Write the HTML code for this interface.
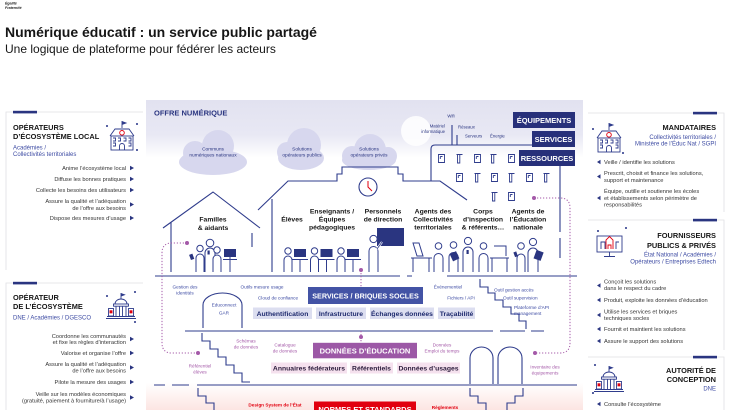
<!DOCTYPE html>
<html><head><meta charset="utf-8"><title>Numérique éducatif</title>
<style>html,body{margin:0;padding:0;background:#fff;width:730px;height:410px;overflow:hidden}svg{display:block}</style>
</head><body>
<svg xmlns="http://www.w3.org/2000/svg" width="730" height="410" viewBox="0 0 730 410" font-family="'Liberation Sans', sans-serif">
<defs>
 <linearGradient id="lav" x1="0" y1="0" x2="0" y2="1">
  <stop offset="0" stop-color="#e2e2f0"/><stop offset="0.6" stop-color="#e8e8f4"/><stop offset="1" stop-color="#ffffff"/>
 </linearGradient>
 <linearGradient id="pk" x1="0" y1="0" x2="0" y2="1">
  <stop offset="0" stop-color="#ffffff"/><stop offset="1" stop-color="#fce5e2"/>
 </linearGradient>
 <g id="wf" fill="none" stroke="#2f3c8c" stroke-width="0.9"><path d="M0.5,0.5 H6.5 V8.5 H0.5 Z"/><path d="M2.3,2.5 H4.5 M2.3,2.5 V5"/></g>
 <g id="wt" fill="none" stroke="#2f3c8c" stroke-width="0.9"><path d="M0.5,0.5 H6.5 M1.5,0.5 V9 H3.8 V0.5"/></g>
</defs>

<!-- Header -->
<text x="5" y="4.5" font-size="3.6" font-style="italic" font-weight="700" fill="#222">Égalité</text>
<text x="5" y="9" font-size="3.6" font-style="italic" font-weight="700" fill="#222">Fraternité</text>
<text x="5" y="37" font-size="14" font-weight="700" fill="#161616">Numérique éducatif : un service public partagé</text>
<text x="5" y="53" font-size="12" fill="#161616">Une logique de plateforme pour fédérer les acteurs</text>

<!-- Center backgrounds -->
<rect x="146" y="100" width="437" height="58" fill="url(#lav)"/>
<rect x="146" y="383" width="437" height="27" fill="url(#pk)"/>

<!-- ============ LEFT PANEL 1 ============ -->
<path d="M6,270 V112 H143" stroke="#e0e0e4" fill="none" stroke-width="0.8"/>
<rect x="13" y="110.8" width="24" height="2.6" fill="#2a3580"/>
<text font-size="7.4" font-weight="700" fill="#161616"><tspan x="13" y="130">OPÉRATEURS</tspan><tspan x="13" y="139">D’ÉCOSYSTÈME LOCAL</tspan></text>
<text font-size="6" fill="#3d4ba3"><tspan x="13" y="149.5">Académies /</tspan><tspan x="13" y="156">Collectivités territoriales</tspan></text>
<g transform="translate(107,121)" fill="none" stroke="#2f3c8c" stroke-width="0.9">
 <line x1="15" y1="0" x2="15" y2="7"/><path d="M15,0.5 l4,1.5 l-4,1.5" fill="#2f3c8c"/>
 <path d="M3,15 L8,8 H22 L27,15"/>
 <rect x="4" y="15" width="22" height="14"/>
 <path d="M6,17 h2.5 v3 h-2.5 M11,17 h2.5 v3 h-2.5 M16.5,17 h2.5 v3 h-2.5 M21.5,17 h2.5 v3 h-2.5 M6,22 h2.5 v3 h-2.5 M21.5,22 h2.5 v3 h-2.5"/>
 <path d="M12.5,29 V25 a2.5,2.5 0 0 1 5,0 V29"/>
 <circle cx="15" cy="11.8" r="2.3" stroke="#e1000f"/>
 <circle cx="0" cy="5" r="0.6" fill="#2f3c8c"/><circle cx="30" cy="3" r="0.6" fill="#2f3c8c"/><circle cx="30" cy="29" r="0.6" fill="#2f3c8c"/>
</g>
<g font-size="5.7" fill="#333" text-anchor="end">
 <text x="126" y="169.8">Anime l’écosystème local</text>
 <text x="126" y="180.8">Diffuse les bonnes pratiques</text>
 <text x="126" y="191.8">Collecte les besoins des utilisateurs</text>
 <text x="126" y="202.8">Assure la qualité et l’adéquation</text>
 <text x="126" y="209.8">de l’offre aux besoins</text>
 <text x="126" y="219.8">Dispose des mesures d’usage</text>
</g>
<g fill="#2a3580">
 <polygon points="130,165.8 134,168 130,170.2"/>
 <polygon points="130,176.8 134,179 130,181.2"/>
 <polygon points="130,187.8 134,190 130,192.2"/>
 <polygon points="130,202.3 134,204.5 130,206.7"/>
 <polygon points="130,215.8 134,218 130,220.2"/>
</g>

<!-- ============ LEFT PANEL 2 ============ -->
<path d="M6,410 V283 H143" stroke="#e0e0e4" fill="none" stroke-width="0.8"/>
<rect x="13" y="281.8" width="24" height="2.6" fill="#2a3580"/>
<text font-size="7.4" font-weight="700" fill="#161616"><tspan x="13" y="300">OPÉRATEUR</tspan><tspan x="13" y="309">DE L’ÉCOSYSTÈME</tspan></text>
<text x="13" y="319.5" font-size="6" fill="#3d4ba3">DNE / Académies / DGESCO</text>
<g transform="translate(107,293)" fill="none" stroke="#2f3c8c" stroke-width="0.9">
 <line x1="14" y1="0" x2="14" y2="6"/><path d="M14,0.5 l3.5,1.3 l-3.5,1.3" fill="#2f3c8c"/>
 <path d="M8,11 a6,5 0 0 1 12,0"/>
 <rect x="6.5" y="11" width="15" height="2.2"/>
 <path d="M9,13.2 V23 M12.5,13.2 V23 M15.5,13.2 V23 M19,13.2 V23"/>
 <rect x="1.5" y="15.5" width="5" height="7.5"/><rect x="21.5" y="15.5" width="5" height="7.5"/>
 <rect x="2.7" y="17.5" width="2.6" height="2.6" fill="#e1000f" stroke="#e1000f" stroke-width="0.4"/>
 <rect x="22.7" y="17.5" width="2.6" height="2.6" fill="#e1000f" stroke="#e1000f" stroke-width="0.4"/>
 <path d="M0,23.5 H28 M-1,25.5 H29"/>
 <circle cx="0" cy="3" r="0.6" fill="#2f3c8c"/><circle cx="28" cy="-1" r="0.6" fill="#2f3c8c"/><circle cx="28" cy="29" r="0.6" fill="#2f3c8c"/>
</g>
<g font-size="5.7" fill="#333" text-anchor="end">
 <text x="126" y="337.8">Coordonne les communautés</text>
 <text x="126" y="344">et fixe les règles d’interaction</text>
 <text x="126" y="354.8">Valorise et organise l’offre</text>
 <text x="126" y="365.8">Assure la qualité et l’adéquation</text>
 <text x="126" y="372.5">de l’offre aux besoins</text>
 <text x="126" y="383.8">Pilote la mesure des usages</text>
 <text x="126" y="395.8">Veille sur les modèles économiques</text>
 <text x="126" y="402.6">(gratuité, paiement à fourniture/à l’usage)</text>
</g>
<g fill="#2a3580">
 <polygon points="130,336.8 134,339 130,341.2"/>
 <polygon points="130,350.8 134,353 130,355.2"/>
 <polygon points="130,365.3 134,367.5 130,369.7"/>
 <polygon points="130,379.8 134,382 130,384.2"/>
 <polygon points="130,395.3 134,397.5 130,399.7"/>
</g>

<!-- ============ RIGHT PANEL 1 ============ -->
<path d="M588,113 H724 V212" stroke="#e0e0e4" fill="none" stroke-width="0.8"/>
<rect x="693" y="111.8" width="24" height="2.6" fill="#2a3580"/>
<text x="716" y="130" font-size="7.4" font-weight="700" fill="#161616" text-anchor="end">MANDATAIRES</text>
<text font-size="6" fill="#3d4ba3" text-anchor="end"><tspan x="716" y="139">Collectivités territoriales /</tspan><tspan x="716" y="145.5">Ministère de l’Éduc Nat / SGPI</tspan></text>
<g transform="translate(594,123)" fill="none" stroke="#2f3c8c" stroke-width="0.9">
 <line x1="15" y1="0" x2="15" y2="7"/><path d="M15,0.5 l4,1.5 l-4,1.5" fill="#2f3c8c"/>
 <path d="M3,15 L8,8 H22 L27,15"/>
 <rect x="4" y="15" width="22" height="14"/>
 <path d="M6,17 h2.5 v3 h-2.5 M11,17 h2.5 v3 h-2.5 M16.5,17 h2.5 v3 h-2.5 M21.5,17 h2.5 v3 h-2.5 M6,22 h2.5 v3 h-2.5 M21.5,22 h2.5 v3 h-2.5"/>
 <path d="M12.5,29 V25 a2.5,2.5 0 0 1 5,0 V29"/>
 <circle cx="15" cy="11.8" r="2.3" stroke="#e1000f"/>
 <circle cx="-1" cy="6" r="0.6" fill="#2f3c8c"/><circle cx="29" cy="30" r="0.6" fill="#2f3c8c"/>
</g>
<g font-size="5.7" fill="#333">
 <text x="604" y="163.8">Veille / identifie les solutions</text>
 <text x="604" y="174.8">Prescrit, choisit et finance les solutions,</text>
 <text x="604" y="181.8">support et maintenance</text>
 <text x="604" y="192.8">Équipe, outille et soutienne les écoles</text>
 <text x="604" y="199.8">et établissements selon périmètre de</text>
 <text x="604" y="206.3">responsabilités</text>
</g>
<g fill="#2a3580">
 <polygon points="600.5,159.8 597,162 600.5,164.2"/>
 <polygon points="600.5,174.3 597,176.5 600.5,178.7"/>
 <polygon points="600.5,195.8 597,198 600.5,200.2"/>
</g>

<!-- ============ RIGHT PANEL 2 ============ -->
<path d="M588,220 H724 V350" stroke="#e0e0e4" fill="none" stroke-width="0.8"/>
<rect x="693" y="218.8" width="24" height="2.6" fill="#2a3580"/>
<text font-size="7.4" font-weight="700" fill="#161616" text-anchor="end"><tspan x="716" y="238">FOURNISSEURS</tspan><tspan x="716" y="248">PUBLICS &amp; PRIVÉS</tspan></text>
<text font-size="6" fill="#3d4ba3" text-anchor="end"><tspan x="716" y="256.5">État National / Académies /</tspan><tspan x="716" y="263.5">Opérateurs / Entreprises Edtech</tspan></text>
<g fill="none" stroke="#2f3c8c" stroke-width="0.9">
 <rect x="597" y="236" width="25" height="16"/>
 <path d="M609.5,252 V256 M604,256.5 H615"/>
 <path d="M601,249 V242 H605 V249 M616,249 V242 H619"/>
 <path d="M606,249 V240 L609.5,236.5 L613,240 V249" stroke="#e1000f"/>
 <path d="M608,249 V245 H611 V249" stroke="#e1000f"/>
 <circle cx="598" cy="231" r="0.6" fill="#2f3c8c"/><circle cx="626" cy="228" r="0.6" fill="#2f3c8c"/>
</g>
<g font-size="5.7" fill="#333">
 <text x="604" y="283.5">Conçoit les solutions</text>
 <text x="604" y="290.2">dans le respect du cadre</text>
 <text x="604" y="301.8">Produit, exploite les données d’éducation</text>
 <text x="604" y="313.5">Utilise les services et briques</text>
 <text x="604" y="320">techniques socles</text>
 <text x="604" y="330.8">Fournit et maintient les solutions</text>
 <text x="604" y="342.8">Assure le support des solutions</text>
</g>
<g fill="#2a3580">
 <polygon points="600.5,283.3 597,285.5 600.5,287.7"/>
 <polygon points="600.5,297.8 597,300 600.5,302.2"/>
 <polygon points="600.5,312.8 597,315 600.5,317.2"/>
 <polygon points="600.5,326.8 597,329 600.5,331.2"/>
 <polygon points="600.5,338.8 597,341 600.5,343.2"/>
</g>

<!-- ============ RIGHT PANEL 3 ============ -->
<path d="M588,357 H724 V410" stroke="#e0e0e4" fill="none" stroke-width="0.8"/>
<rect x="693" y="355.8" width="24" height="2.6" fill="#2a3580"/>
<text font-size="7.4" font-weight="700" fill="#161616" text-anchor="end"><tspan x="716" y="373">AUTORITÉ DE</tspan><tspan x="716" y="382">CONCEPTION</tspan></text>
<text x="716" y="390.5" font-size="6" fill="#3d4ba3" text-anchor="end">DNE</text>
<g transform="translate(595,366)" fill="none" stroke="#2f3c8c" stroke-width="0.9">
 <line x1="14" y1="0" x2="14" y2="6"/><path d="M14,0.5 l3.5,1.3 l-3.5,1.3" fill="#2f3c8c"/>
 <path d="M8,11 a6,5 0 0 1 12,0"/>
 <rect x="6.5" y="11" width="15" height="2.2"/>
 <path d="M9,13.2 V23 M12.5,13.2 V23 M15.5,13.2 V23 M19,13.2 V23"/>
 <rect x="1.5" y="15.5" width="5" height="7.5"/><rect x="21.5" y="15.5" width="5" height="7.5"/>
 <rect x="2.7" y="17.5" width="2.6" height="2.6" fill="#e1000f" stroke="#e1000f" stroke-width="0.4"/>
 <rect x="22.7" y="17.5" width="2.6" height="2.6" fill="#e1000f" stroke="#e1000f" stroke-width="0.4"/>
 <path d="M0,23.5 H28 M-1,25.5 H29"/>
 <circle cx="0" cy="-1" r="0.6" fill="#2f3c8c"/><circle cx="-2" cy="27" r="0.6" fill="#2f3c8c"/>
</g>
<text x="604" y="405.8" font-size="5.7" fill="#333">Consulte l’écosystème</text>
<polygon points="600.5,401.8 597,404 600.5,406.2" fill="#2a3580"/>

<!-- ============ CENTER: OFFRE NUMERIQUE ============ -->
<text x="154" y="115.5" font-size="7.5" font-weight="700" fill="#2a3580">OFFRE NUMÉRIQUE</text>

<g fill="#d7d7ee">
 <ellipse cx="213" cy="162" rx="34" ry="13"/><circle cx="218" cy="146" r="16"/><circle cx="195" cy="153" r="12"/>
 <ellipse cx="301" cy="158" rx="23" ry="12"/><circle cx="304" cy="145" r="17"/><circle cx="287" cy="152" r="10"/>
 <ellipse cx="369" cy="160" rx="27" ry="10"/><circle cx="370" cy="150" r="16"/><circle cx="388" cy="156" r="9"/><circle cx="352" cy="156" r="10"/>
</g>
<circle cx="416" cy="131" r="15" fill="#ffffff" opacity="0.85"/>
<g font-size="4.8" fill="#2a3580" text-anchor="middle">
 <text x="213" y="150.5">Communs</text><text x="213" y="156.5">numériques nationaux</text>
 <text x="302" y="150.5">Solutions</text><text x="302" y="156.5">opérateurs publics</text>
 <text x="369" y="150.5">Solutions</text><text x="369" y="156.5">opérateurs privés</text>
</g>
<g font-size="4.3" fill="#2a3580">
 <text x="451" y="117.5" text-anchor="middle">Wifi</text>
 <text x="445" y="127.5" text-anchor="end">Matériel</text>
 <text x="445" y="133" text-anchor="end">informatique</text>
 <text x="458" y="128.5">Réseaux</text>
 <text x="465" y="137.5">Serveurs</text>
 <text x="490" y="137.5">Énergie</text>
</g>

<!-- Structural lines -->
<g fill="none" stroke="#2f3c8c" stroke-width="1.1">
 <path d="M452,125 V145 M457,135 V145"/>
 <path d="M431,181 V149 Q431,145 435,145 H560"/>
 <path d="M560,166 V232 M560,238 V258"/>
 <polyline points="163,228 213,192 260,228"/>
 <path d="M171,222 V272 M252,233 V247"/>
 <polyline points="258,210 288,181 337,181 337,174 342,174 342,167 398,167 398,174 403,174 403,181 440,181 467,200"/>
 <path d="M272,199 V272"/>
 <path d="M155,276 H400 M407,276 H412 M447,276 H577"/>
 <path d="M185,331 H493 M500,331 H525 M531,331 H544"/>
 <path d="M154,385 H165 M172,385 H189 M197,385 H577"/>
 <path d="M480,279 V287 H488 V293 H495 V300 H503 V307 H511 V314 H519 V321 H526 V329"/>
 <path d="M202,333 V341 H210 V349 H218 V357 H226 V365 H234 V373 H242 V382 H250"/>
 <path d="M198,388 V396 H206 V403 H214 V410"/>
 <path d="M470,388 V396 H478 V403 H486 V410"/>
 <path d="M523,388 V396 H515 V403 H507 V410"/>
 <path d="M203,328 V305 A19.5,12 0 0 1 242,305 V328"/>
 <path d="M470,384 V358 A11.5,11 0 0 1 493,358 V384"/>
 <path d="M498,384 V358 A12,11 0 0 1 522,358 V384"/>
 <circle cx="368" cy="187" r="9" fill="#fff"/>
</g>
<path d="M368,181 V187 L372,191" stroke="#e1000f" stroke-width="1" fill="none"/>

<!-- windows -->
<use href="#wf" x="438" y="154"/><use href="#wt" x="456" y="154"/><use href="#wf" x="474" y="154"/><use href="#wt" x="490" y="154"/><use href="#wf" x="508" y="154"/>
<use href="#wf" x="456" y="173"/><use href="#wt" x="474" y="173"/><use href="#wf" x="491" y="173"/><use href="#wt" x="508" y="173"/><use href="#wf" x="526" y="173"/><use href="#wt" x="543" y="173"/>
<use href="#wt" x="491" y="192"/><use href="#wf" x="508" y="192"/>

<!-- Buttons -->
<rect x="513" y="112" width="62" height="16" fill="#27307a"/>
<rect x="532" y="131" width="43" height="16" fill="#27307a"/>
<rect x="519" y="150" width="56" height="16" fill="#27307a"/>
<g font-size="7.5" font-weight="700" fill="#fff" text-anchor="middle">
 <text x="544" y="122.8">ÉQUIPEMENTS</text>
 <text x="553.5" y="141.8">SERVICES</text>
 <text x="547" y="160.8">RESSOURCES</text>
</g>

<!-- People labels -->
<g font-size="6.8" font-weight="700" fill="#161616" text-anchor="middle">
 <text x="213" y="221.5">Familles</text><text x="213" y="230">&amp; aidants</text>
 <text x="292" y="221.5">Élèves</text>
 <text x="332" y="213.5">Enseignants /</text><text x="332" y="221.5">Équipes</text><text x="332" y="229.5">pédagogiques</text>
 <text x="383" y="213.5">Personnels</text><text x="383" y="221.5">de direction</text>
 <text x="433" y="213.5">Agents des</text><text x="433" y="221.5">Collectivités</text><text x="433" y="229.5">territoriales</text>
 <text x="483" y="213.5">Corps</text><text x="483" y="221.5">d’inspection</text><text x="483" y="229.5">&amp; référents…</text>
 <text x="528" y="213.5">Agents de</text><text x="528" y="221.5">l’Éducation</text><text x="528" y="229.5">nationale</text>
</g>

<!-- People figures -->
<g fill="#2a3580">
 <rect x="224" y="249" width="12" height="8"/>
 <rect x="294" y="249" width="12" height="8"/>
 <rect x="320.5" y="249" width="12" height="8"/>
 <rect x="347" y="249" width="12" height="8"/>
 <rect x="377" y="228" width="27" height="18"/>
</g>
<g stroke="#2f3c8c" stroke-width="1" fill="none">
 <path d="M223,259.5 H237 M230,257 V272"/>
 <path d="M292,259.5 H308 M300,259.5 V272"/>
 <path d="M318.5,259.5 H334.5 M326.5,259.5 V272"/>
 <path d="M345,259.5 H361 M353,259.5 V272"/>
 <path d="M413,243 L419,243 L423,256 L417,256 Z"/>
 <path d="M411,258 H432 M413,258 V272 M429,258 V272"/>
 <path d="M494,246 H506 V256 M490,258 H509 M492,258 V272 M507,258 V272"/>
</g>
<g stroke="#2f3c8c" stroke-width="1" fill="#fff">
 <path d="M205,272 V253 a5,5 0 0 1 10,0 V272"/><circle cx="210" cy="243" r="3.8"/>
 <path d="M196,272 V258 a4,4 0 0 1 8,0 V272"/><circle cx="200" cy="248.5" r="3.2"/>
 <path d="M213,272 V259 a4,4 0 0 1 8,0 V272"/><circle cx="217" cy="250" r="3.2"/>
 <path d="M284,272 V260 a4,4 0 0 1 8,0 V272"/><circle cx="288" cy="251" r="3.2"/>
 <path d="M310.5,272 V260 a4,4 0 0 1 8,0 V272"/><circle cx="314.5" cy="251" r="3.2"/>
 <path d="M337,272 V260 a4,4 0 0 1 8,0 V272"/><circle cx="341" cy="251" r="3.2"/>
 <path d="M369,272 V251 a4.5,4.5 0 0 1 9,0 V272"/><circle cx="373.5" cy="239" r="3.6"/>
 <path d="M434,272 V258 a4.5,4.5 0 0 1 9,0 V272"/><circle cx="438.5" cy="246" r="3.3"/>
 <path d="M449,272 V257 a4.5,4.5 0 0 1 9,0 V272"/><circle cx="453.5" cy="245" r="3.3"/>
 <path d="M463,272 V252 a5,5 0 0 1 10,0 V272"/><circle cx="468" cy="241" r="3.6"/>
 <path d="M479,272 V258 a4.5,4.5 0 0 1 9,0 V272"/><circle cx="483.5" cy="246" r="3.3"/>
 <path d="M517,272 V258 a4,4 0 0 1 8,0 V272"/><circle cx="521" cy="246" r="3.3"/>
 <path d="M528,272 V253 a5,5 0 0 1 10,0 V272"/><circle cx="533" cy="242" r="3.6"/>
</g>
<path d="M377,249 L382,242" stroke="#fff" stroke-width="2.2"/>
<path d="M377,249 L382,242" stroke="#2f3c8c" stroke-width="0.8"/>
<g fill="#2a3580">
 <rect x="190" y="254" width="3.5" height="5.5" transform="rotate(-20 192 257)"/>
 <rect x="207.5" y="250.5" width="2.2" height="4"/>
 <rect x="451" y="252" width="7" height="8" transform="rotate(-25 455 256)"/>
 <rect x="466.5" y="250" width="2.2" height="4"/>
 <rect x="535" y="251" width="7.5" height="9" transform="rotate(20 539 255)"/>
 <rect x="514" y="252" width="3" height="5" transform="rotate(-20 515 254)"/>
</g>

<!-- Dotted purple connectors -->
<g fill="none" stroke="#a459a8" stroke-width="1" stroke-dasharray="1.2 1.8">
 <path d="M187,243 H172 Q162,243 162,253 V343 Q162,353 172,353 H198"/>
 <path d="M534,198 H560 Q570,198 570,208 V343 Q570,353 560,353 H535"/>
 <path d="M361,270 V287"/>
 <path d="M361,331 V343"/>
</g>
<g fill="#a459a8">
 <circle cx="187" cy="243" r="2"/><circle cx="198" cy="353" r="2"/>
 <circle cx="534" cy="198" r="2"/><circle cx="535" cy="353" r="2"/>
 <circle cx="361" cy="270" r="2"/><circle cx="361" cy="337" r="2"/>
</g>

<!-- SERVICES / BRIQUES SOCLES -->
<rect x="308" y="287" width="115" height="17" fill="#4353a5"/>
<text x="365.5" y="298.3" font-size="7.2" font-weight="700" fill="#fff" text-anchor="middle">SERVICES / BRIQUES SOCLES</text>
<g fill="#dcdef0">
 <rect x="253" y="307.5" width="59" height="11.5"/>
 <rect x="316" y="307.5" width="50" height="11.5"/>
 <rect x="370" y="307.5" width="64" height="11.5"/>
 <rect x="438" y="307.5" width="37" height="11.5"/>
</g>
<g font-size="6.8" font-weight="700" fill="#1e2a6e" text-anchor="middle">
 <text x="282.5" y="315.8">Authentification</text>
 <text x="341" y="315.8">Infrastructure</text>
 <text x="402" y="315.8">Échanges données</text>
 <text x="456.5" y="315.8">Traçabilité</text>
</g>
<g font-size="4.7" fill="#3d4ba3" text-anchor="middle">
 <text x="185" y="288.5">Gestion des</text><text x="185" y="294.5">identités</text>
 <text x="262" y="288.5">Outils mesure usage</text>
 <text x="278" y="299.5">Cloud de confiance</text>
 <text x="448" y="288.5">Événementiel</text>
 <text x="461" y="299.5">Fichiers / API</text>
 <text x="224" y="306.5">Educonnect</text>
 <text x="224" y="314.5">GAR</text>
</g>
<g font-size="4.7" fill="#3d4ba3">
 <text x="494" y="291.5">Outil gestion accès</text>
 <text x="503" y="299.5">Outil supervision</text>
 <text x="514" y="309">Plateforme d’API</text>
 <text x="514" y="314.8">management</text>
</g>

<!-- DONNEES D'EDUCATION -->
<rect x="313" y="342.8" width="104" height="15.5" fill="#9c58a6"/>
<text x="365" y="353.3" font-size="7.5" font-weight="700" fill="#fff" text-anchor="middle">DONNÉES D’ÉDUCATION</text>
<g fill="#f5e1ee">
 <rect x="271" y="362.5" width="76" height="11"/>
 <rect x="350" y="362.5" width="43" height="11"/>
 <rect x="397" y="362.5" width="63" height="11"/>
</g>
<g font-size="6.8" font-weight="700" fill="#2a1a3a" text-anchor="middle">
 <text x="309" y="370.6">Annuaires fédérateurs</text>
 <text x="371.5" y="370.6">Référentiels</text>
 <text x="428.5" y="370.6">Données d’usages</text>
</g>
<g font-size="4.7" fill="#a459a8" text-anchor="middle">
 <text x="246" y="342.5">Schémas</text><text x="246" y="348.5">de données</text>
 <text x="285" y="346.5">Catalogue</text><text x="285" y="352.5">de données</text>
 <text x="442" y="346.5">Données</text><text x="442" y="352.5">Emploi du temps</text>
 <text x="200" y="367.5">Référentiel</text><text x="200" y="373.5">élèves</text>
 <text x="545" y="368.5">Inventaire des</text><text x="545" y="374.5">équipements</text>
</g>

<!-- NORMES ET STANDARDS -->
<rect x="314" y="401.5" width="102" height="12" fill="#e1000f"/>
<text x="365" y="412" font-size="7.5" font-weight="700" fill="#fff" text-anchor="middle">NORMES ET STANDARDS</text>
<g font-size="4.7" font-weight="700" fill="#e1000f" text-anchor="middle">
 <text x="275" y="406.5">Design System de l’État</text>
 <text x="445" y="409">Règlements</text>
</g>
</svg>
</body></html>
